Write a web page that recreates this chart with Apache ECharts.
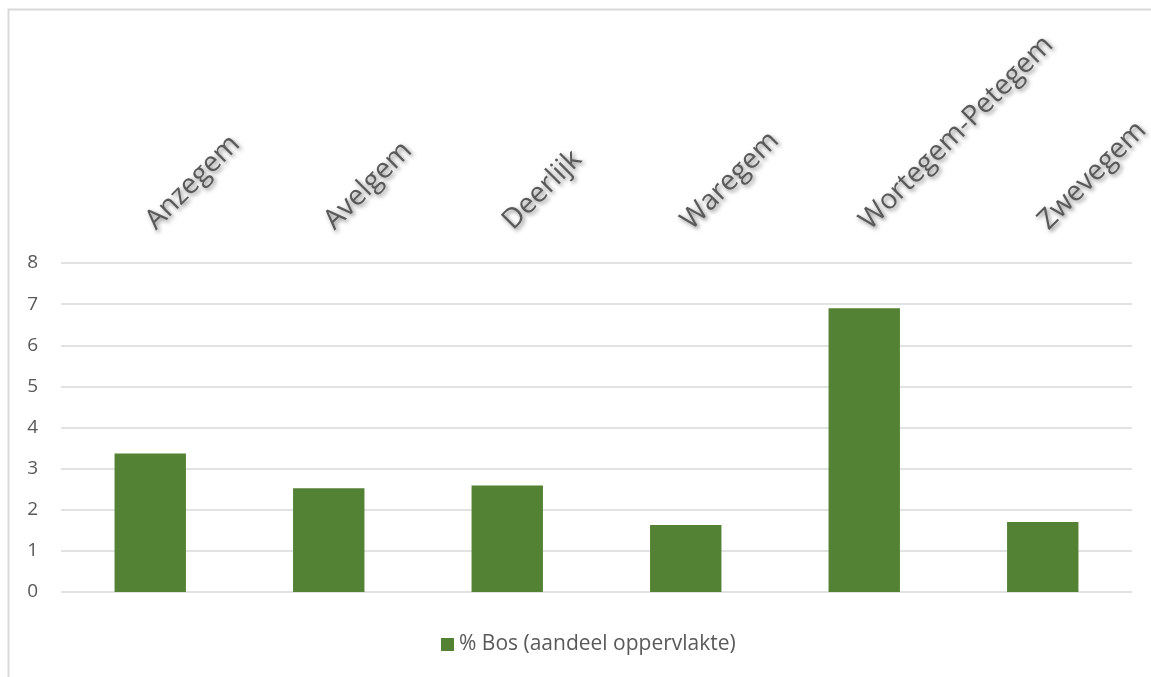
<!DOCTYPE html>
<html>
<head>
<meta charset="utf-8">
<script src="https://cdn.jsdelivr.net/npm/echarts@6/dist/echarts.min.js"></script>
<style>
html,body{margin:0;padding:0;background:#fff;}
#chart{width:1151px;height:677px;}
</style>
</head>
<body>
<div id="chart"></div>
<script>
const categories = ['Anzegem', 'Avelgem', 'Deerlijk', 'Waregem', 'Wortegem-Petegem', 'Zwevegem'];
const bosValues = [3.37, 2.52, 2.59, 1.63, 6.90, 1.70];
const seriesName = '% Bos (aandeel oppervlakte)';
const yTicks = [0, 1, 2, 3, 4, 5, 6, 7, 8];

const chart = echarts.init(document.getElementById('chart'), null, {renderer: 'canvas'});
chart.setOption({
  animation: false,
  backgroundColor: '#ffffff',
  graphic: [{
    type: 'rect',
    shape: {x: 8.5, y: 9.5, width: 1200, height: 700},
    style: {fill: 'none', stroke: '#d9d9d9', lineWidth: 2},
    silent: true
  }],
  grid: {left: 61, right: 19, top: 263, bottom: 85, containLabel: false, outerBoundsMode: 'none'},
  legend: {
    data: [seriesName],
    left: 441,
    top: 634,
    padding: 0,
    icon: 'rect',
    itemWidth: 13,
    itemHeight: 13,
    itemGap: 7,
    textStyle: {color: '#595959', fontSize: 21, fontFamily: 'Open Sans'}
  },
  xAxis: {
    type: 'category',
    position: 'top',
    data: categories,
    axisLine: {show: false},
    axisTick: {show: false},
    axisLabel: {
      rotate: 45,
      interval: 0,
      margin: 38,
      verticalAlign: 'middle',
      color: '#595959',
      fontSize: 28,
      fontFamily: 'Open Sans',
      textShadowColor: 'rgba(0,0,0,0.5)',
      textShadowBlur: 4,
      textShadowOffsetX: 2,
      textShadowOffsetY: 2
    }
  },
  yAxis: {
    type: 'value',
    min: yTicks[0],
    max: yTicks[yTicks.length - 1],
    interval: 1,
    axisLine: {show: false},
    axisTick: {show: false},
    splitLine: {lineStyle: {color: '#d9d9d9', width: 1.5}},
    axisLabel: {color: '#595959', fontSize: 19, fontFamily: 'Open Sans', margin: 23}
  },
  series: [{
    name: seriesName,
    type: 'bar',
    data: bosValues,
    barCategoryGap: '60%',
    itemStyle: {color: '#548235'}
  }]
});
</script>
</body>
</html>
